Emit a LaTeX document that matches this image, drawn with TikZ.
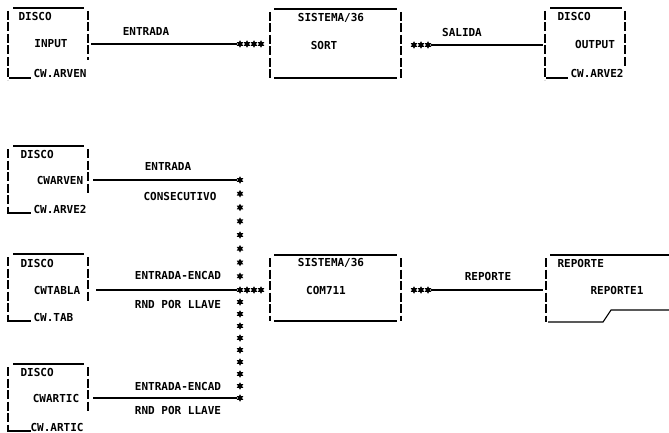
\documentclass[tikz,border=0pt]{standalone}
\usepackage{fontspec}
\newfontfamily\prnfont{DejaVu Sans Mono}
\usetikzlibrary{shapes.geometric}

\begin{document}
\begin{tikzpicture}[
        x=1pt, y=-1pt, line width=1.1pt,
        txt/.style={font=\prnfont\bfseries\fontsize{11}{11}\selectfont, inner sep=0pt},
        bar/.style={dash pattern=on 9pt off 2.5pt},
        ast/.style={star, star points=6, star point ratio=1.8, fill, draw=none,
                    inner sep=0pt, minimum size=7.5pt},
    ]
    \useasboundingbox (0,0) rectangle (669,433);

    % disk INPUT
    \draw (13,8) -- (84,8);
    \draw[bar] (8,11) -- (8,80);
    \draw[bar] (88,11) -- (88,60);
    \draw (9,78) -- (31,78);
    \node[txt, anchor=base west] (dsc1) at (18,21) {DISCO};
    \node[txt] (input) at (51,44) {INPUT};
    \node[txt, anchor=base west] (cw1) at (33,78) {CW.ARVEN};

    % SORT
    \draw (274,9) -- (397,9);
    \draw (274,78) -- (397,78);
    \draw[bar] (270,12) -- (270,78);
    \draw[bar] (401,12) -- (401,78);
    \node[txt] (sis1) at (331,18) {SISTEMA/36};
    \node[txt] (sort) at (324,45) {SORT};

    \coordinate (e1) at (91,44);
    \foreach \i/\x in {1/240,2/247,3/254,4/261}
        \node[ast] (a\i) at (\x,44) {};
    \draw (e1) -- (a1);
    \node[txt] (lbl1) at (146,31) {ENTRADA};

    \foreach \i/\x in {1/414,2/421,3/428}
        \node[ast] (b\i) at (\x,45) {};
    \coordinate (o1) at (543,45);
    \draw (b3) -- (o1);
    \node[txt] (lbl2) at (462,32) {SALIDA};

    % disk OUTPUT
    \draw (550,8) -- (622,8);
    \draw[bar] (545,11) -- (545,80);
    \draw[bar] (625,11) -- (625,66);
    \draw (546,78) -- (568,78);
    \node[txt, anchor=base west] (dsc2) at (557,21) {DISCO};
    \node[txt] (output) at (595,44) {OUTPUT};
    \node[txt, anchor=base west] (cw2) at (570,78) {CW.ARVE2};

    % input disks of COM711
    \foreach \t in {146,254,364} {
        \draw (13,\t) -- (84,\t);
        \draw[bar] (8,\t+3) -- (8,\t+68);
        \draw[bar] (88,\t+3) -- (88,\t+48);
        \draw (9,\t+67) -- (31,\t+67);
    }
    \node[txt, anchor=base west] (dsc3) at (20,158) {DISCO};
    \node[txt] (cwarven) at (60,180) {CWARVEN};
    \node[txt, anchor=base west] (cw3) at (33,213) {CW.ARVE2};

    \node[txt, anchor=base west] (dsc4) at (20,267) {DISCO};
    \node[txt] (cwtabla) at (57,290) {CWTABLA};
    \node[txt, anchor=base west] (cw4) at (33,321) {CW.TAB};

    \node[txt, anchor=base west] (dsc5) at (20,376) {DISCO};
    \node[txt] (cwartic) at (56,398) {CWARTIC};
    \node[txt, anchor=base west] (cw5) at (30,431) {CW.ARTIC};

    % star column
    \foreach \k in {0,...,8}
        \node[ast] (c\k) at (240,{180+13.75*\k}) {};
    \foreach \k in {1,...,9}
        \node[ast] (d\k) at (240,{290+12*\k}) {};
    \foreach \i/\x in {1/247,2/254,3/261}
        \node[ast] (m\i) at (\x,290) {};

    \coordinate (e2) at (93,180);
    \coordinate (e3) at (96,290);
    \coordinate (e4) at (93,398);
    \draw (e2) -- (c0);
    \draw (e3) -- (c8);
    \draw (e4) -- (d9);
    \node[txt] (lbl3) at (168,166) {ENTRADA};
    \node[txt] (lbl4) at (180,196) {CONSECUTIVO};
    \node[txt] (lbl5) at (178,275) {ENTRADA-ENCAD};
    \node[txt] (lbl6) at (178,304) {RND POR LLAVE};
    \node[txt] (lbl7) at (178,386) {ENTRADA-ENCAD};
    \node[txt] (lbl8) at (178,410) {RND POR LLAVE};

    % COM711
    \draw (274,255) -- (397,255);
    \draw (274,321) -- (397,321);
    \draw[bar] (270,258) -- (270,321);
    \draw[bar] (401,258) -- (401,321);
    \node[txt] (sis2) at (331,263) {SISTEMA/36};
    \node[txt] (com) at (326,290) {COM711};

    \foreach \i/\x in {1/414,2/421,3/428}
        \node[ast] (r\i) at (\x,290) {};
    \coordinate (o2) at (543,290);
    \draw (r3) -- (o2);
    \node[txt] (lbl9) at (488,276) {REPORTE};

    % report
    \draw (550,255) -- (669,255);
    \draw[bar] (546,258) -- (546,322);
    \draw (548,322) -- (603,322) -- (611,310) -- (669,310);
    \node[txt, anchor=base west] (rep) at (557,267) {REPORTE};
    \node[txt] (rep1) at (617,290) {REPORTE1};

    \end{tikzpicture}
\end{document}
